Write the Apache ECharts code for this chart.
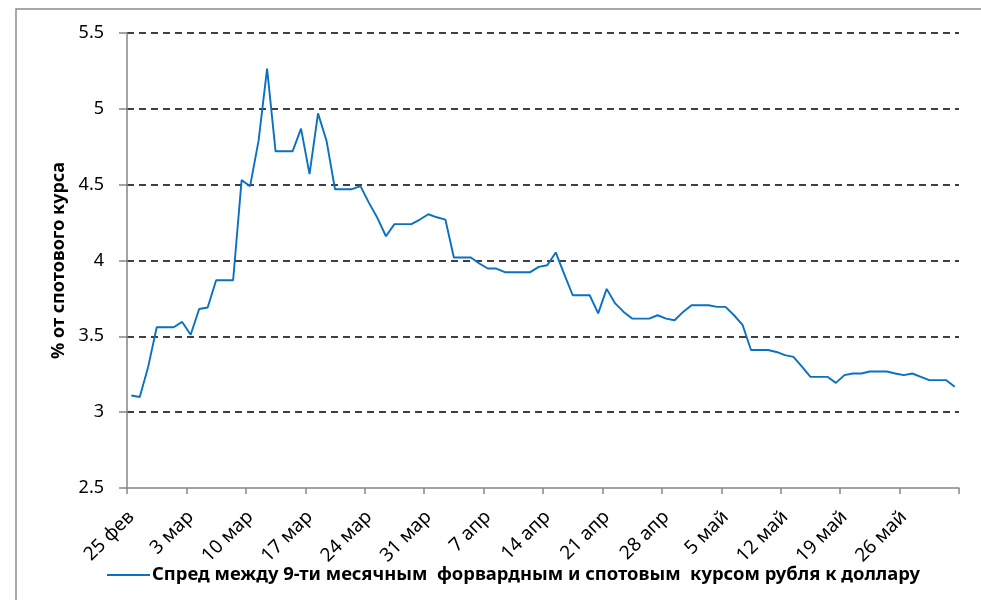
<!DOCTYPE html>
<html>
<head>
<meta charset="utf-8">
<script src="https://cdn.jsdelivr.net/npm/echarts@6/dist/echarts.min.js"></script>
<style>
  html, body { margin: 0; padding: 0; background: #fff; }
  #chart { width: 981px; height: 600px; }
</style>
</head>
<body>
<div id="chart"></div>
<script>
// daily dates, 25 фев .. 1 июн
const days = [
  '25 фев', '26 фев', '27 фев', '28 фев', '29 фев',
  '1 мар', '2 мар', '3 мар', '4 мар', '5 мар', '6 мар', '7 мар', '8 мар', '9 мар', '10 мар',
  '11 мар', '12 мар', '13 мар', '14 мар', '15 мар', '16 мар', '17 мар', '18 мар', '19 мар', '20 мар',
  '21 мар', '22 мар', '23 мар', '24 мар', '25 мар', '26 мар', '27 мар', '28 мар', '29 мар', '30 мар', '31 мар',
  '1 апр', '2 апр', '3 апр', '4 апр', '5 апр', '6 апр', '7 апр', '8 апр', '9 апр', '10 апр',
  '11 апр', '12 апр', '13 апр', '14 апр', '15 апр', '16 апр', '17 апр', '18 апр', '19 апр', '20 апр',
  '21 апр', '22 апр', '23 апр', '24 апр', '25 апр', '26 апр', '27 апр', '28 апр', '29 апр', '30 апр',
  '1 май', '2 май', '3 май', '4 май', '5 май', '6 май', '7 май', '8 май', '9 май', '10 май',
  '11 май', '12 май', '13 май', '14 май', '15 май', '16 май', '17 май', '18 май', '19 май', '20 май',
  '21 май', '22 май', '23 май', '24 май', '25 май', '26 май', '27 май', '28 май', '29 май', '30 май', '31 май',
  '1 июн'
];

// spread, % of spot rate
const spread = [
  3.11, 3.10, 3.30, 3.56, 3.56, 3.56, 3.595, 3.51, 3.68, 3.69,
  3.87, 3.87, 3.87, 4.53, 4.49, 4.79, 5.265, 4.72, 4.72, 4.72,
  4.87, 4.57, 4.97, 4.79, 4.47, 4.47, 4.47, 4.49, 4.38, 4.28,
  4.16, 4.24, 4.24, 4.24, 4.27, 4.305, 4.285, 4.27, 4.02, 4.02,
  4.02, 3.98, 3.947, 3.947, 3.923, 3.923, 3.923, 3.923, 3.958, 3.969,
  4.053, 3.91, 3.771, 3.771, 3.771, 3.651, 3.813, 3.717, 3.661, 3.617,
  3.617, 3.617, 3.639, 3.617, 3.606, 3.661, 3.705, 3.705, 3.705, 3.694,
  3.694, 3.639, 3.576, 3.41, 3.41, 3.41, 3.397, 3.376, 3.365, 3.30,
  3.233, 3.233, 3.233, 3.193, 3.244, 3.255, 3.255, 3.268, 3.268, 3.268,
  3.255, 3.244, 3.255, 3.233, 3.211, 3.211, 3.211, 3.167
];

const seriesName = 'Спред между 9-ти месячным  форвардным и спотовым  курсом рубля к доллару';
const font = '"Noto Sans", "Open Sans", sans-serif';

const chart = echarts.init(document.getElementById('chart'));

chart.setOption({
    animation: false,
    textStyle: { fontFamily: font },
    graphic: [
        {
            type: 'rect',
            shape: { x: 16, y: 9, width: 1100, height: 800 },
            style: { fill: 'none', stroke: '#8c8c8c', lineWidth: 1.5 },
            silent: true
        }
    ],
    grid: {
        left: 127,
        right: 22,
        top: 33,
        bottom: 112
    },
    legend: {
        left: 102,
        top: 561,
        icon: 'rect',
        itemWidth: 43,
        itemHeight: 2,
        itemGap: 0,
        textStyle: {
            color: '#000',
            fontSize: 18.4,
            fontWeight: 'bold',
            fontFamily: font,
            padding: [0, 0, 0, -3]
        },
        data: [seriesName]
    },
    xAxis: {
        type: 'category',
        boundaryGap: true,
        data: days,
        axisLine: {
            lineStyle: { color: '#868686', width: 1.5 }
        },
        axisTick: {
            show: true,
            alignWithLabel: false,
            interval: 6,
            length: 6,
            lineStyle: { color: '#868686', width: 1.5 }
        },
        axisLabel: {
            interval: 6,
            rotate: 45,
            margin: 26,
            color: '#000',
            fontSize: 19
        },
        splitLine: { show: false }
    },
    yAxis: {
        type: 'value',
        min: 2.5,
        max: 5.5,
        interval: 0.5,
        name: '% от спотового курса',
        nameLocation: 'middle',
        nameGap: 58,
        nameTextStyle: {
            color: '#000',
            fontSize: 18,
            fontWeight: 'bold'
        },
        axisLine: {
            show: true,
            lineStyle: { color: '#868686', width: 1.5 }
        },
        axisTick: {
            show: true,
            length: 8,
            lineStyle: { color: '#868686', width: 1.5 }
        },
        axisLabel: {
            color: '#000',
            fontSize: 18,
            margin: 23
        },
        splitLine: {
            showMinLine: false,
            lineStyle: {
                color: '#000',
                width: 1.5,
                type: [7, 5]
            }
        }
    },
    series: [
        {
            name: seriesName,
            type: 'line',
            data: spread,
            symbol: 'none',
            lineStyle: {
                color: '#0a70c0',
                width: 1.9
            },
            itemStyle: { color: '#0a70c0' }
        }
    ]
});
</script>
</body>
</html>
